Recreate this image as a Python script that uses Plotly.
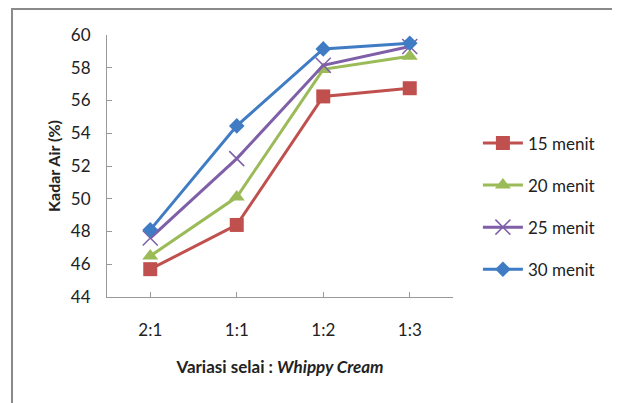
import plotly.graph_objects as go

categories = ["2:1", "1:1", "1:2", "1:3"]
series_names = ["15 menit", "20 menit", "25 menit", "30 menit"]
v15 = [45.7, 48.4, 56.25, 56.75]
v20 = [46.5, 50.1, 57.9, 58.7]
v25 = [47.6, 52.45, 58.15, 59.3]
v30 = [48.1, 54.45, 59.15, 59.5]
y_ticks = [44, 46, 48, 50, 52, 54, 56, 58, 60]

values = [v15, v20, v25, v30]
colors = ["#C0504D", "#9BBB59", "#7F5FA8", "#3F7CC4"]
symbols = ["square", "triangle-up", "x-thin-open", "diamond"]
sizes = [14, 14, 15, 12]

FONT = "Lato, Open Sans, sans-serif"

fig = go.Figure()
for name, vals, c, s, sz in zip(series_names, values, colors, symbols, sizes):
    marker = dict(symbol=s, size=sz, color=c)
    if s == "x-thin-open":
        marker["line"] = dict(color=c, width=1.5)
    fig.add_trace(go.Scatter(
        x=list(range(len(categories))), y=vals, name=name, mode="lines+markers",
        line=dict(color=c, width=3), marker=marker, legendgroup=name,
    ))

fig.update_layout(
    width=612, height=395,
    margin=dict(l=99, r=167, t=27, b=106),
    paper_bgcolor="white", plot_bgcolor="white",
    font=dict(family=FONT, size=16, color="#222"),
    legend=dict(x=1.072, y=0.655, xanchor="left", yanchor="top",
                font=dict(size=17, family=FONT, color="#222"),
                tracegroupgap=17, traceorder="grouped", itemwidth=40,
                bgcolor="rgba(0,0,0,0)"),
    shapes=[dict(type="rect", xref="paper", yref="paper",
                 x0=-0.2746, x1=1.474, y0=-0.45, y1=1.099,
                 line=dict(color="#8a8a8a", width=2))],
)
fig.update_xaxes(
    range=[-0.5, 3.5], tickmode="array", tickvals=list(range(len(categories))),
    ticktext=categories, ticks="inside", ticklen=5, tickcolor="#999",
    showline=True, linecolor="#999", linewidth=1, showgrid=False, zeroline=False,
    tickfont=dict(size=17), ticklabelstandoff=18, automargin=False,
    title=dict(text="<b>Variasi selai : <i>Whippy Cream</i></b>", font=dict(size=17), standoff=21),
)
fig.update_yaxes(
    range=[44, 60], tickmode="array", tickvals=y_ticks,
    ticks="inside", ticklen=5, tickcolor="#999",
    showline=True, linecolor="#999", linewidth=1, showgrid=False, zeroline=False,
    tickfont=dict(size=17), ticklabelstandoff=12, automargin=False,
    title=dict(text="<b>Kadar Air (%)</b>", font=dict(size=16), standoff=6),
)
fig.write_html("out.html")
